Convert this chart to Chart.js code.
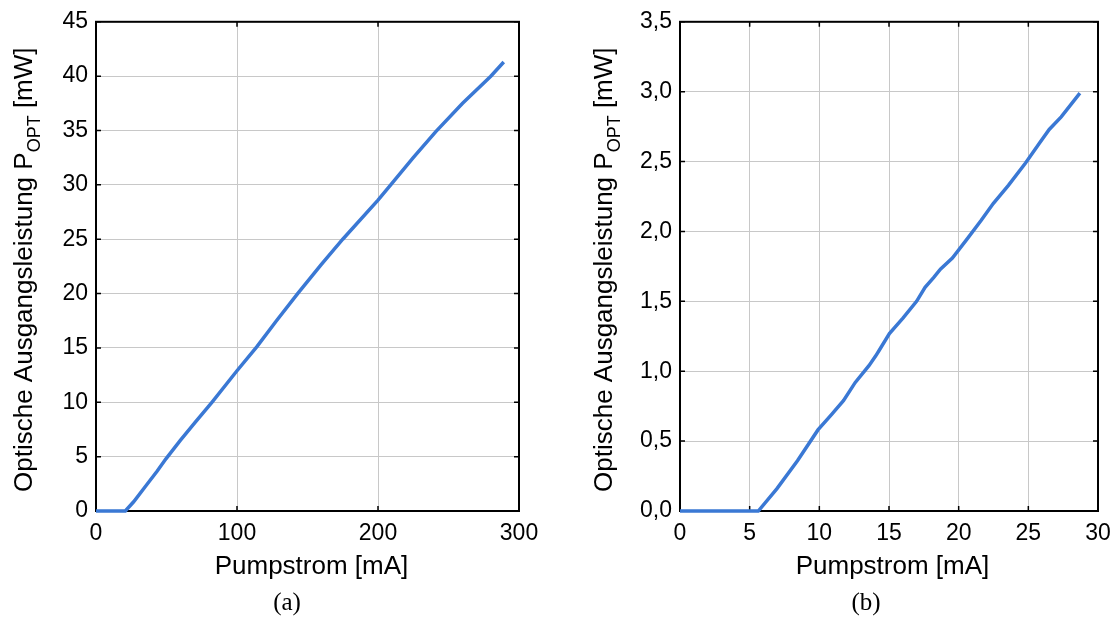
<!DOCTYPE html>
<html>
<head>
<meta charset="utf-8">
<script src="https://cdn.jsdelivr.net/npm/chart.js@4.4.1/dist/chart.umd.min.js"></script>
<style>
  html, body { margin:0; padding:0; background:#fff; }
  body { width:1112px; height:617px; overflow:hidden; position:relative; }
  .panel { position:absolute; top:0; }
</style>
</head>
<body>
<div class="panel" style="left:0"><canvas id="chartA" width="560" height="617"></canvas></div>
<div class="panel" style="left:580px"><canvas id="chartB" width="545" height="617"></canvas></div>
<script>
// (a) full range measurement
const CURRENT_A = [0, 20.8, 26.7, 35, 43.3, 49.6, 59.8, 70, 82.2, 100, 114, 128, 143, 160, 175, 200, 209, 225, 241, 260, 280, 289.2];
const POWER_A   = [0, 0, 0.85, 2.25, 3.65, 4.8, 6.5, 8.1, 10.0, 12.9, 15.1, 17.5, 20.0, 22.7, 25.0, 28.6, 30.0, 32.5, 34.9, 37.5, 40.0, 41.3];
const X_TICKS_A = [0, 100, 200, 300];
const Y_TICKS_A = [0, 5, 10, 15, 20, 25, 30, 35, 40, 45];

// (b) zoom on the threshold region
const CURRENT_B = [0, 5.62, 6.96, 8.43, 9.9, 10.87, 11.73, 12.58, 13.56, 14.05, 14.3, 15.03, 16.0, 16.98, 17.59, 18.2, 18.69, 19.55, 20.64, 21.62, 22.48, 23.57, 24.8, 25.78, 26.5, 27.36, 28.7];
const POWER_B   = [0, 0, 0.16, 0.36, 0.58, 0.69, 0.79, 0.92, 1.04, 1.11, 1.15, 1.27, 1.38, 1.50, 1.60, 1.67, 1.73, 1.81, 1.95, 2.08, 2.20, 2.33, 2.49, 2.63, 2.73, 2.82, 2.99];
const X_TICKS_B = [0, 5, 10, 15, 20, 25, 30];
const Y_TICKS_B = [0, 0.5, 1.0, 1.5, 2.0, 2.5, 3.0, 3.5];

const SANS = '"Liberation Sans", Arial, sans-serif';
const LINE_COLOR = '#3a78d4';
const GRID_COLOR = '#c8c8c8';

// box + inward tick marks + titles drawn on the canvas
const framePlugin = {
  id: 'frame',
  beforeDatasetsDraw(chart){
    const {ctx, chartArea:ca, scales} = chart;
    ctx.save();
    ctx.strokeStyle = '#000';
    ctx.lineWidth = 1.5;
    ctx.beginPath();
    scales.x.ticks.forEach(t => {
      const px = scales.x.getPixelForValue(t.value);
      ctx.moveTo(px, ca.bottom); ctx.lineTo(px, ca.bottom - 5);
      ctx.moveTo(px, ca.top); ctx.lineTo(px, ca.top + 5);
    });
    scales.y.ticks.forEach(t => {
      const py = scales.y.getPixelForValue(t.value);
      ctx.moveTo(ca.left, py); ctx.lineTo(ca.left + 5, py);
      ctx.moveTo(ca.right, py); ctx.lineTo(ca.right - 5, py);
    });
    ctx.stroke();
    ctx.lineWidth = 2;
    ctx.strokeRect(ca.left, ca.top, ca.right - ca.left, ca.bottom - ca.top);
    ctx.restore();
  },
  afterDraw(chart, args, opts){
    const ctx = chart.ctx;
    ctx.save();
    ctx.fillStyle = '#000';
    // y title with subscript
    ctx.translate(32, 492);
    ctx.rotate(-Math.PI/2);
    ctx.textAlign = 'left';
    ctx.textBaseline = 'alphabetic';
    ctx.font = '26px ' + SANS;
    const main = 'Optische Ausgangsleistung P';
    ctx.fillText(main, 0, 0);
    let w = ctx.measureText(main).width;
    ctx.font = '18px ' + SANS;
    ctx.fillText('OPT', w, 8);
    w += ctx.measureText('OPT').width;
    ctx.font = '26px ' + SANS;
    ctx.fillText(' [mW]', w, 0);
    ctx.restore();

    ctx.save();
    ctx.fillStyle = '#000';
    ctx.textAlign = 'center';
    ctx.textBaseline = 'alphabetic';
    ctx.font = '26px ' + SANS;
    ctx.fillText('Pumpstrom [mA]', opts.titleX, 574);
    ctx.font = '25px "Liberation Serif", "Times New Roman", serif';
    ctx.fillText(opts.caption, opts.captionX, 609.5);
    ctx.restore();
  }
};

function fmtComma(v){ return v.toFixed(1).replace('.', ','); }

function makeChart(id, xs, ys, xTicks, yTicks, yWidth, rightPad, yFmt, titleX, caption, captionX){
  const pts = xs.map((x, i) => ({x, y: ys[i]}));
  const tickFont = {family: SANS, size: 23};
  return new Chart(document.getElementById(id), {
    type: 'line',
    data: { datasets: [{ data: pts, borderColor: LINE_COLOR, borderWidth: 3.5, pointRadius: 0, tension: 0, clip: false }] },
    options: {
      responsive: false,
      animation: false,
      events: [],
      layout: { padding: { left: 0, top: 19, right: rightPad, bottom: 0 } },
      plugins: {
        legend: { display: false },
        tooltip: { enabled: false },
        frame: { titleX, caption, captionX }
      },
      scales: {
        x: {
          type: 'linear',
          min: xTicks[0], max: xTicks[xTicks.length - 1],
          afterBuildTicks: s => { s.ticks = xTicks.map(v => ({value: v})); },
          ticks: { font: tickFont, color: '#000', padding: 9, maxRotation: 0, autoSkip: false },
          grid: { color: GRID_COLOR, lineWidth: 1, drawTicks: false },
          border: { display: false },
          afterFit: s => { s.height = 106; }
        },
        y: {
          min: yTicks[0], max: yTicks[yTicks.length - 1],
          afterBuildTicks: s => { s.ticks = yTicks.map(v => ({value: v})); },
          ticks: { font: tickFont, color: '#000', padding: 8, autoSkip: false, callback: yFmt },
          grid: { color: GRID_COLOR, lineWidth: 1, drawTicks: false },
          border: { display: false },
          afterFit: s => { s.width = yWidth; }
        }
      }
    },
    plugins: [framePlugin]
  });
}

makeChart('chartA', CURRENT_A, POWER_A, X_TICKS_A, Y_TICKS_A, 96, 41, v => String(v), 311.5, '(a)', 287);
makeChart('chartB', CURRENT_B, POWER_B, X_TICKS_B, Y_TICKS_B, 100, 27, v => fmtComma(v), 312.5, '(b)', 286);
</script>
</body>
</html>
